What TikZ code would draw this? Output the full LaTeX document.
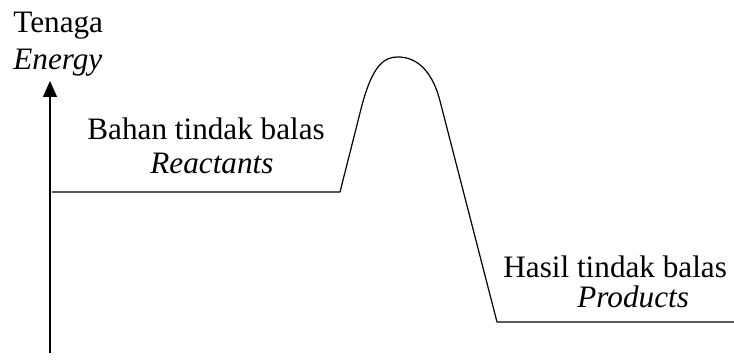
\documentclass[tikz,border=0pt]{standalone}
\usepackage{fontspec}
\setmainfont{Liberation Serif}
\usepackage{tikz}
\usetikzlibrary{arrows.meta,positioning,calc}

\begin{document}
\begin{tikzpicture}[
  x=0.5pt, y=0.5pt,
  lbl/.style={inner sep=0pt, anchor=base west, font=\fontsize{15.6}{18}\selectfont},
  ilbl/.style={lbl, font=\fontsize{15.6}{18}\selectfont\itshape},
  curve/.style={line width=0.6pt, line join=round},
]
\useasboundingbox (0,0) rectangle (734,363);
\node[lbl] (tenaga) at (13,330) {Tenaga};
\node[ilbl] (energy) at (13,293) {Energy};
\node[lbl] (bahan) at (87,223) {Bahan tindak balas};
\node[ilbl] (reactants) at (150,189) {Reactants};
\node[lbl] (hasil) at (503,85) {Hasil tindak balas};
\node[ilbl] (products) at (577,55) {Products};
\coordinate (axbot) at (50,10);
\coordinate (axtop) at (50,282);
\coordinate (rstart) at (52,171);
\coordinate (rend) at (340,171);
\coordinate (rise) at (360,250);
\coordinate (peak) at (398,306);
\coordinate (fall) at (440,262);
\coordinate (pstart) at (497,41);
\coordinate (pend) at (734,41);
\draw[curve, -{Triangle[length=8pt,width=7pt]}] (axbot) -- (axtop);
\draw[curve] (rstart) -- (rend) -- (rise)
  .. controls (372,300) and (385,306) .. (peak)
  .. controls (413,306) and (431,297) .. (fall)
  -- (pstart) -- (pend);
\end{tikzpicture}
\end{document}
